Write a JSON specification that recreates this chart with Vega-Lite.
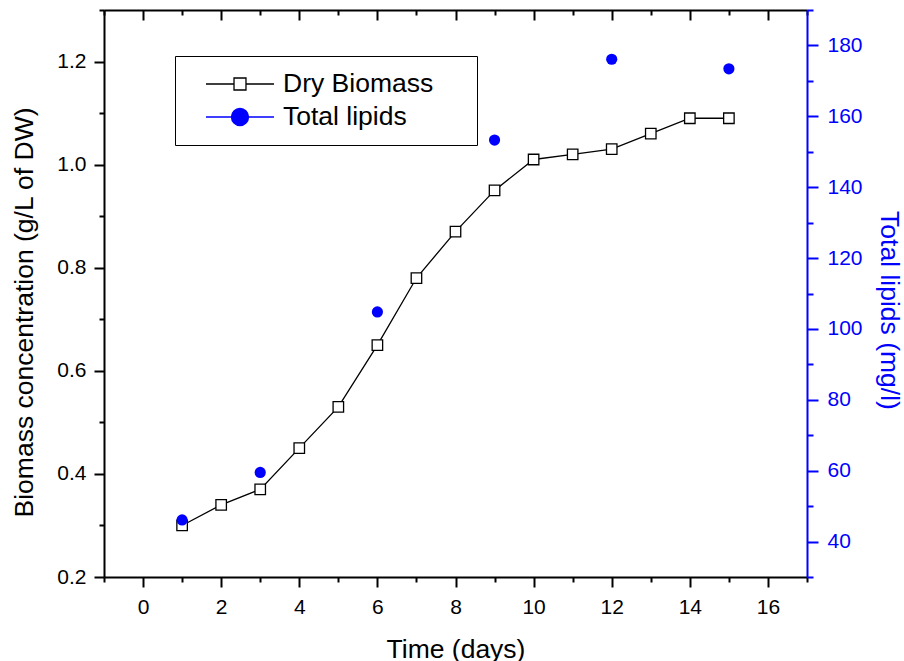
{
  "$schema": "https://vega.github.io/schema/vega-lite/v6.json",
  "width": 703,
  "height": 567,
  "autosize": {"type": "none"},
  "padding": {"left": 104, "top": 10, "right": 97, "bottom": 84},
  "background": "white",
  "datasets": {
    "biomass": [
      {"day": 1, "biomass": 0.30},
      {"day": 2, "biomass": 0.34},
      {"day": 3, "biomass": 0.37},
      {"day": 4, "biomass": 0.45},
      {"day": 5, "biomass": 0.53},
      {"day": 6, "biomass": 0.65},
      {"day": 7, "biomass": 0.78},
      {"day": 8, "biomass": 0.87},
      {"day": 9, "biomass": 0.95},
      {"day": 10, "biomass": 1.01},
      {"day": 11, "biomass": 1.02},
      {"day": 12, "biomass": 1.03},
      {"day": 13, "biomass": 1.06},
      {"day": 14, "biomass": 1.09},
      {"day": 15, "biomass": 1.09}
    ],
    "lipids": [
      {"day": 1, "lipids": 46.1},
      {"day": 3, "lipids": 59.5},
      {"day": 6, "lipids": 104.8},
      {"day": 9, "lipids": 153.3},
      {"day": 12, "lipids": 176.1},
      {"day": 15, "lipids": 173.4}
    ]
  },
  "config": {
    "view": {"stroke": null},
    "axis": {
      "grid": false,
      "domainColor": "black",
      "domainWidth": 2,
      "tickColor": "black",
      "tickWidth": 2,
      "labelFont": "Liberation Sans",
      "labelFontSize": 21,
      "labelColor": "black",
      "labelOverlap": false,
      "labelFlush": false,
      "titleFont": "Liberation Sans",
      "titleFontSize": 26.5,
      "titleFontWeight": "normal",
      "titleColor": "black"
    }
  },
  "resolve": {"scale": {"y": "independent"}, "axis": {"x": "independent", "y": "independent"}},
  "layer": [
    {
      "data": {"name": "biomass"},
      "mark": {"type": "line", "color": "black", "strokeWidth": 1.3},
      "encoding": {
        "x": {
          "field": "day", "type": "quantitative",
          "scale": {"domain": [-1, 17], "nice": false, "zero": false},
          "axis": {
            "orient": "bottom",
            "values": [-1, 0, 1, 2, 3, 4, 5, 6, 7, 8, 9, 10, 11, 12, 13, 14, 15, 16, 17],
            "labelExpr": "datum.value % 2 === 0 ? datum.label : ''",
            "tickSize": 10,
            "tickDash": {"condition": {"test": "datum.value % 2 !== 0", "value": [5, 50]}, "value": [20, 0]},
            "labelPadding": 9,
            "title": "Time (days)",
            "titleY": 80,
            "titleBaseline": "alphabetic"
          }
        },
        "y": {
          "field": "biomass", "type": "quantitative",
          "scale": {"domain": [0.2, 1.3], "nice": false, "zero": false},
          "axis": {
            "orient": "left",
            "values": [0.2, 0.3, 0.4, 0.5, 0.6, 0.7, 0.8, 0.9, 1.0, 1.1, 1.2, 1.3],
            "format": ".1f",
            "labelExpr": "round(datum.value * 10) % 2 === 0 ? datum.label : ''",
            "tickSize": 10,
            "tickDash": {"condition": {"test": "round(datum.value * 10) % 2 !== 0", "value": [5, 50]}, "value": [20, 0]},
            "labelPadding": 8,
            "title": "Biomass concentration (g/L of DW)",
            "titleAngle": -90,
            "titleX": -72,
            "titleY": 302,
            "titleAlign": "center",
            "titleBaseline": "alphabetic"
          }
        }
      }
    },
    {
      "data": {"name": "biomass"},
      "mark": {"type": "point", "shape": "square", "filled": true, "fill": "white", "stroke": "black", "strokeWidth": 1.3, "size": 110, "opacity": 1},
      "encoding": {
        "x": {
          "field": "day", "type": "quantitative",
          "scale": {"domain": [-1, 17], "nice": false, "zero": false},
          "axis": {
            "orient": "top",
            "values": [-1, 0, 1, 2, 3, 4, 5, 6, 7, 8, 9, 10, 11, 12, 13, 14, 15, 16, 17],
            "labels": false,
            "tickSize": -10,
            "tickDash": {"condition": {"test": "datum.value % 2 !== 0", "value": [5, 50]}, "value": [20, 0]},
            "title": null
          }
        },
        "y": {
          "field": "biomass", "type": "quantitative",
          "scale": {"domain": [0.2, 1.3], "nice": false, "zero": false},
          "axis": null
        }
      }
    },
    {
      "data": {"name": "lipids"},
      "mark": {"type": "point", "shape": "circle", "filled": true, "color": "#0000ff", "size": 125, "opacity": 1},
      "encoding": {
        "x": {
          "field": "day", "type": "quantitative",
          "scale": {"domain": [-1, 17], "nice": false, "zero": false},
          "axis": null
        },
        "y": {
          "field": "lipids", "type": "quantitative",
          "scale": {"domain": [30, 190], "nice": false, "zero": false},
          "axis": {
            "orient": "right",
            "values": [30, 40, 50, 60, 70, 80, 90, 100, 110, 120, 130, 140, 150, 160, 170, 180, 190],
            "labelExpr": "datum.value % 20 === 0 ? datum.label : ''",
            "tickSize": 11,
            "tickDash": {"condition": {"test": "datum.value % 20 !== 0", "value": [6, 50]}, "value": [20, 0]},
            "labelPadding": 9,
            "domainColor": "#0000ff",
            "tickColor": "#0000ff",
            "labelColor": "#0000ff",
            "titleColor": "#0000ff",
            "title": "Total lipids (mg/l)",
            "titleAngle": 90,
            "titleX": 73,
            "titleY": 300,
            "titleAlign": "center",
            "titleBaseline": "alphabetic"
          }
        }
      }
    },
    {
      "data": {"values": []},
      "mark": {"type": "point", "filled": true, "strokeWidth": 1.3, "opacity": 1},
      "encoding": {
        "shape": {
          "field": "series", "type": "nominal",
          "scale": {"domain": ["Dry Biomass", "Total lipids"], "range": ["M-1,0H1.155M2.075,0H4.23M1.155,-0.46H2.075V0.46H1.155Z", "M-1,0H4.23M0.961,0A0.654,0.654 0 1,1 2.269,0A0.654,0.654 0 1,1 0.961,0Z"]}
        },
        "stroke": {
          "field": "series", "type": "nominal",
          "scale": {"domain": ["Dry Biomass", "Total lipids"], "range": ["black", "#0000ff"]}
        },
        "fill": {
          "field": "series", "type": "nominal",
          "scale": {"domain": ["Dry Biomass", "Total lipids"], "range": ["white", "#0000ff"]},
          "legend": {
            "orient": "none",
            "legendX": 71,
            "legendY": 46,
            "title": null,
            "padding": 14,
            "strokeColor": "black",
            "fillColor": "white",
            "labelFont": "Liberation Sans",
            "labelFontSize": 26.5,
            "labelColor": "black",
            "labelLimit": 400,
            "labelOffset": 50,
            "symbolOffset": 16,
            "symbolSize": 676,
            "symbolStrokeWidth": 1.3,
            "symbolOpacity": 1,
            "rowPadding": 5,
            "labelExpr": "datum.label + '\u00a0\u00a0\u00a0\u00a0\u200b'",
            "encode": {"legend": {"strokeWidth": {"value": 1.5}}}
          }
        }
      }
    }
  ]
}
